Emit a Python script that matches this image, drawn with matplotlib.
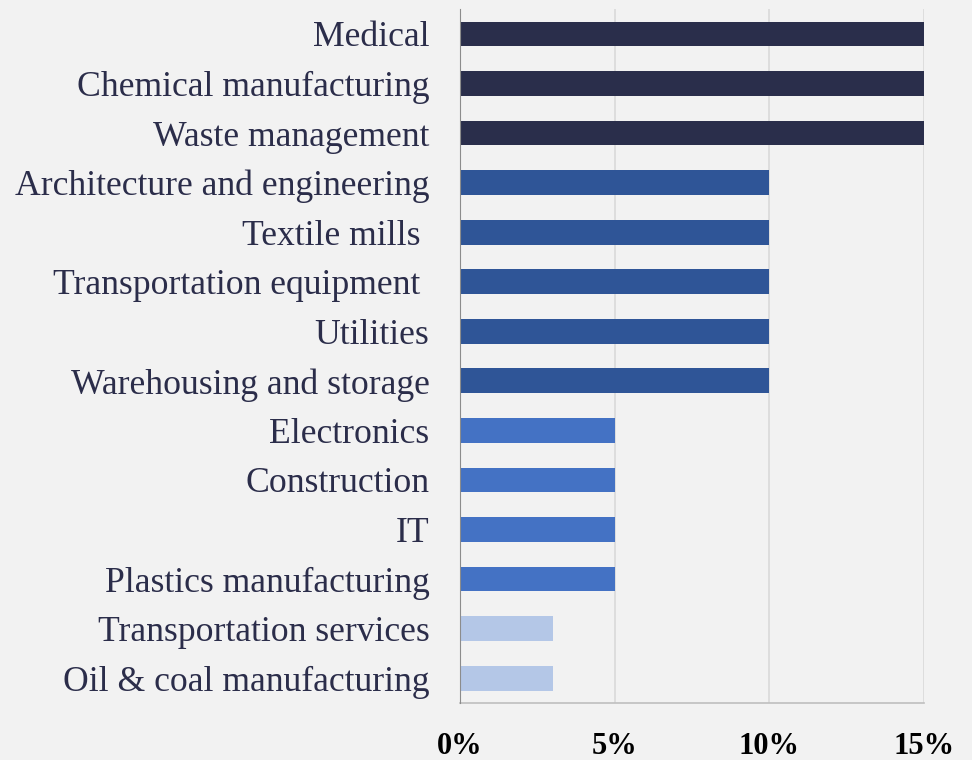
import matplotlib.pyplot as plt

# industries, top to bottom
industries = ["Medical", "Chemical manufacturing", "Waste management",
              "Architecture and engineering", "Textile mills ",
              "Transportation equipment ", "Utilities",
              "Warehousing and storage", "Electronics", "Construction", "IT",
              "Plastics manufacturing", "Transportation services",
              "Oil & coal manufacturing"]
shares = [15, 15, 15, 10, 10, 10, 10, 10, 5, 5, 5, 5, 3, 3]
colors = ["#2a2e4b"] * 3 + ["#2f5597"] * 5 + ["#4472c4"] * 4 + ["#b4c7e7"] * 2
xticks = [0, 5, 10, 15]
xtick_labels = ["0%", "5%", "10%", "15%"]

bg = "#f2f2f2"
fig = plt.figure(figsize=(9.72, 7.6), dpi=100, facecolor=bg)
ax = fig.add_axes([0.4733, 0.075, 0.4774, 0.913], facecolor=bg)

ypos = list(range(len(industries)))
ax.barh(ypos, shares, height=0.5, color=colors, zorder=3)
ax.set_ylim(len(industries) - 0.5, -0.5)
ax.set_xlim(0, 15)

ax.set_yticks(ypos)
ax.set_yticklabels(industries, family="Liberation Serif", fontsize=25.7,
                   color="#2b2d4a")
ax.set_xticks(xticks)
ax.set_xticklabels(xtick_labels, family="Liberation Serif", fontsize=22,
                   fontweight="bold", color="black")
ax.tick_params(axis="y", length=0, pad=22)
ax.tick_params(axis="x", length=0, pad=21)

ax.grid(axis="x", color="#d9d9d9", linewidth=1.2, zorder=0)
for s in ["top", "right"]:
    ax.spines[s].set_visible(False)
ax.spines["left"].set_color("#8c8c8c")
ax.spines["left"].set_zorder(4)
ax.spines["bottom"].set_color("#bfbfbf")
ax.spines["bottom"].set_linewidth(1.2)

fig.savefig("out.png", dpi=100, facecolor=bg)
